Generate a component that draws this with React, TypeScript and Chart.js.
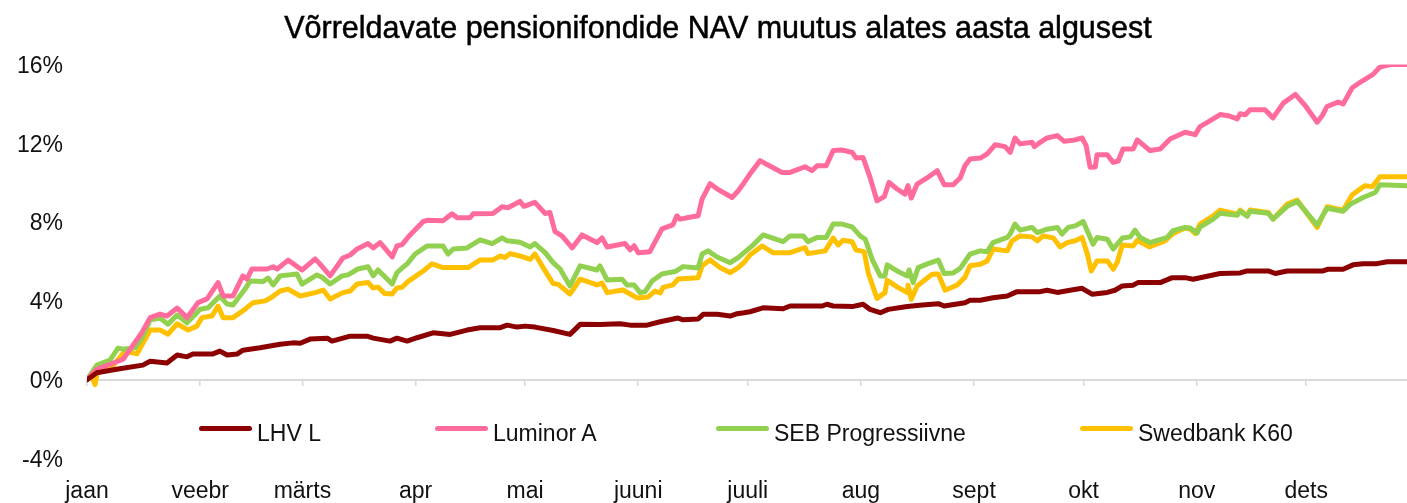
import React, { useEffect, useRef } from 'react';
import { Chart, registerables } from 'chart.js';

Chart.register(...registerables);

const TITLE = 'Võrreldavate pensionifondide NAV muutus alates aasta algusest';

const monthLabels = ['jaan', 'veebr', 'märts', 'apr', 'mai', 'juuni', 'juuli', 'aug', 'sept', 'okt', 'nov', 'dets'];
const monthStartDays = [0, 31, 59, 90, 120, 151, 181, 212, 243, 273, 304, 334];
const lastDay = 361.6;
const yTickValues = [-4, 0, 4, 8, 12, 16];

const seriesNames = ['LHV L', 'Luminor A', 'SEB Progressiivne', 'Swedbank K60'];
const seriesColors = ['#8B0000', '#FF6C9B', '#92D050', '#FFC000'];

// [day of year, % change since start of year]
const lhvL: number[][] = [
  [0, 0], [2.7, 0.35], [8.1, 0.53], [15.3, 0.74], [17.3, 0.94], [21.9, 0.85], [24.7, 1.25], [27.4, 1.16],
  [29.0, 1.30], [34.5, 1.31], [36.4, 1.45], [38.4, 1.25], [41.1, 1.30], [42.7, 1.50], [47.4, 1.62], [52.9, 1.80],
  [56.4, 1.87], [58.4, 1.85], [61.1, 2.06], [65.8, 2.11], [67.1, 1.96], [72.1, 2.21], [76.7, 2.21], [78.4, 2.11],
  [83.0, 1.96], [84.9, 2.11], [87.7, 1.96], [90.4, 2.13], [94.8, 2.38], [99.5, 2.30], [104.1, 2.52], [107.7, 2.64],
  [113.2, 2.64], [115.1, 2.77], [117.8, 2.67], [120.0, 2.72], [122.7, 2.67], [127.7, 2.50], [132.3, 2.30], [135.1, 2.81],
  [140.5, 2.80], [146.0, 2.84], [148.8, 2.77], [153.4, 2.77], [157.0, 2.94], [161.9, 3.13], [163.3, 3.04], [167.4, 3.08],
  [168.8, 3.32], [172.6, 3.32], [176.2, 3.23], [178.1, 3.35], [180.0, 3.40], [181.6, 3.45], [185.2, 3.65], [190.7, 3.60],
  [192.6, 3.74], [201.4, 3.74], [202.7, 3.83], [204.4, 3.74], [209.9, 3.72], [212.6, 3.83], [214.5, 3.57], [217.3, 3.40],
  [219.5, 3.57], [224.7, 3.72], [228.8, 3.79], [233.2, 3.86], [234.8, 3.74], [240.5, 3.91], [241.9, 4.03], [244.7, 4.03],
  [248.2, 4.16], [252.1, 4.25], [254.8, 4.47], [261.1, 4.47], [263.0, 4.54], [265.8, 4.43], [269.3, 4.54], [272.6, 4.64],
  [275.3, 4.34], [279.5, 4.43], [281.6, 4.54], [283.6, 4.76], [286.6, 4.80], [287.9, 4.93], [294.0, 4.93], [297.3, 5.18],
  [300.8, 5.18], [303.0, 5.10], [310.4, 5.39], [315.9, 5.42], [317.8, 5.52], [323.6, 5.52], [325.5, 5.39], [328.8, 5.52],
  [338.6, 5.52], [340.0, 5.61], [344.1, 5.61], [346.8, 5.83], [349.6, 5.89], [353.4, 5.89], [356.2, 5.99], [361.6, 5.99],
];

const luminorA: number[][] = [
  [0, 0], [2.7, 0.53], [9.9, 1.04], [15.0, 2.38], [17.3, 3.15], [20.0, 3.33], [21.9, 3.23], [24.7, 3.64],
  [27.4, 3.15], [30.4, 3.91], [32.9, 4.10], [35.9, 4.93], [37.3, 4.25], [40.0, 4.25], [42.7, 5.27], [43.8, 5.11],
  [45.2, 5.62], [49.3, 5.62], [51.0, 5.73], [52.1, 5.62], [55.1, 6.07], [58.9, 5.57], [62.5, 6.13], [63.8, 5.88],
  [66.6, 5.27], [70.1, 6.18], [72.1, 6.33], [74.0, 6.64], [77.0, 6.91], [78.4, 6.69], [80.3, 6.96], [83.6, 6.23],
  [84.9, 6.79], [86.3, 6.86], [88.5, 7.35], [92.1, 8.03], [93.4, 8.10], [97.5, 8.07], [100.0, 8.42], [101.4, 8.22],
  [104.9, 8.22], [105.8, 8.42], [111.2, 8.44], [113.7, 8.78], [115.3, 8.73], [118.6, 9.05], [119.7, 8.80], [122.7, 9.00],
  [125.5, 8.44], [126.8, 8.49], [128.2, 7.52], [130.1, 7.30], [132.9, 6.69], [135.6, 7.35], [139.7, 6.96], [141.1, 7.20],
  [142.5, 6.74], [147.4, 6.91], [148.8, 6.59], [149.9, 6.80], [151.0, 6.45], [154.2, 6.50], [156.2, 7.20], [157.5, 7.66],
  [160.5, 7.86], [161.6, 8.32], [162.5, 8.15], [164.4, 8.22], [167.4, 8.32], [168.5, 9.17], [170.7, 9.95], [172.6, 9.69],
  [176.7, 9.25], [178.4, 9.59], [180.0, 10.0], [181.6, 10.44], [184.4, 11.12], [186.3, 10.92], [190.4, 10.52], [192.6, 10.52],
  [196.7, 10.81], [198.6, 10.61], [200.0, 10.86], [202.5, 10.86], [204.4, 11.63], [206.8, 11.66], [209.6, 11.54], [210.7, 11.25],
  [212.6, 11.28], [214.5, 10.27], [216.4, 9.08], [218.4, 9.29], [219.7, 10.02], [221.9, 9.68], [224.1, 9.42], [224.9, 9.85],
  [225.8, 9.22], [227.4, 9.93], [230.1, 10.24], [232.9, 10.61], [234.8, 9.90], [237.3, 9.90], [239.2, 10.24], [240.5, 10.86],
  [241.9, 11.20], [244.7, 11.25], [246.6, 11.46], [248.8, 11.93], [251.5, 11.83], [252.9, 11.54], [254.2, 12.27], [255.6, 11.97],
  [258.9, 12.05], [259.5, 11.83], [261.1, 12.05], [263.0, 12.27], [265.8, 12.39], [267.7, 12.10], [270.1, 12.15], [272.6, 12.27],
  [273.7, 11.88], [274.8, 10.78], [276.2, 10.80], [276.7, 11.42], [279.5, 11.42], [281.1, 11.03], [282.5, 11.10], [283.8, 11.71],
  [286.6, 11.71], [287.7, 12.17], [291.2, 11.63], [294.0, 11.71], [296.7, 12.22], [300.8, 12.56], [303.6, 12.44], [304.9, 12.85],
  [307.7, 13.15], [310.4, 13.46], [312.6, 13.40], [315.1, 13.24], [315.9, 13.50], [317.3, 13.45], [318.6, 13.70], [322.7, 13.70],
  [324.9, 13.29], [327.7, 14.04], [331.0, 14.48], [333.7, 13.92], [337.0, 13.07], [338.4, 13.41], [339.7, 13.87], [342.7, 14.09],
  [344.1, 14.00], [346.6, 14.82], [349.3, 15.16], [352.3, 15.50], [354.2, 15.87], [357.0, 16.00], [361.6, 16.00],
];

const sebProgressiivne: number[][] = [
  [0, 0], [2.7, 0.74], [6.3, 0.99], [8.5, 1.60], [9.9, 1.55], [13.2, 1.62], [15.1, 2.13], [17.3, 3.03],
  [20.0, 3.13], [22.2, 2.82], [24.7, 3.28], [27.4, 2.89], [31.0, 3.58], [33.2, 3.65], [36.4, 4.25], [38.4, 3.84],
  [40.0, 3.79], [43.3, 4.60], [44.7, 5.01], [48.2, 4.98], [49.6, 5.16], [51.0, 4.81], [52.9, 5.27], [57.5, 5.37],
  [58.9, 4.85], [63.0, 5.32], [64.4, 5.20], [66.6, 4.86], [69.9, 5.27], [71.5, 5.32], [74.2, 5.62], [77.0, 5.73],
  [78.4, 5.27], [79.7, 5.57], [83.6, 4.86], [84.9, 5.43], [86.3, 5.67], [87.7, 5.88], [89.9, 6.38], [93.2, 6.79],
  [97.5, 6.79], [98.9, 6.38], [100.3, 6.64], [104.1, 6.69], [107.7, 7.10], [111.0, 6.91], [113.7, 7.20], [115.1, 7.05],
  [118.6, 6.98], [121.4, 6.74], [122.7, 6.91], [125.5, 6.45], [127.7, 5.94], [129.6, 5.62], [132.3, 4.76], [135.1, 5.78],
  [139.7, 5.57], [140.5, 5.78], [142.5, 5.06], [146.6, 5.10], [147.9, 4.81], [149.9, 4.81], [151.5, 4.42], [152.9, 4.47],
  [154.8, 5.01], [157.5, 5.37], [161.1, 5.49], [163.3, 5.74], [167.4, 5.67], [168.5, 6.38], [170.1, 6.54], [172.6, 6.23],
  [176.2, 5.94], [178.4, 6.20], [180.0, 6.45], [182.2, 6.79], [185.2, 7.35], [190.7, 7.01], [192.6, 7.30], [196.2, 7.30],
  [197.5, 7.01], [200.0, 7.22], [202.5, 7.22], [204.4, 7.90], [206.8, 7.90], [209.6, 7.76], [211.8, 7.30], [213.2, 7.13],
  [215.1, 6.11], [217.3, 5.27], [218.6, 5.27], [219.2, 5.83], [221.9, 5.52], [224.7, 5.27], [225.2, 5.57], [226.3, 4.93],
  [227.7, 5.69], [230.4, 5.89], [233.2, 6.07], [234.8, 5.39], [237.3, 5.42], [239.2, 5.65], [240.5, 6.00], [241.9, 6.37],
  [244.7, 6.54], [246.6, 6.50], [248.2, 6.96], [252.1, 7.22], [252.9, 7.40], [254.2, 7.90], [255.6, 7.59], [258.9, 7.73],
  [260.3, 7.47], [263.0, 7.64], [265.8, 7.73], [267.1, 7.39], [268.8, 7.73], [270.7, 7.81], [272.9, 8.03], [274.0, 7.56],
  [275.6, 6.88], [276.7, 7.22], [279.5, 7.13], [281.1, 6.63], [283.6, 7.19], [285.8, 7.25], [287.1, 7.59], [288.5, 7.22],
  [291.2, 6.96], [295.9, 7.22], [297.5, 7.56], [300.8, 7.73], [302.2, 7.70], [304.1, 7.45], [304.9, 7.75], [308.5, 8.15],
  [310.4, 8.45], [315.1, 8.35], [315.9, 8.55], [317.8, 8.30], [318.6, 8.55], [323.6, 8.45], [324.9, 8.15], [328.8, 8.80],
  [331.5, 9.05], [337.0, 7.85], [339.7, 8.70], [344.1, 8.55], [346.0, 8.90], [349.6, 9.25], [352.9, 9.50], [354.2, 9.90],
  [361.6, 9.85],
];

const swedbankK60: number[][] = [
  [0, 0], [1.1, 0.25], [2.2, -0.25], [3.0, 0.58], [6.3, 0.53], [10.4, 1.45], [13.7, 1.31], [17.3, 2.52],
  [20.0, 2.52], [22.2, 2.31], [24.7, 2.84], [27.7, 2.52], [30.1, 2.72], [31.5, 3.15], [34.2, 3.23], [35.9, 3.74],
  [37.3, 3.15], [40.0, 3.15], [43.3, 3.58], [45.5, 3.91], [48.8, 4.00], [50.7, 4.20], [52.9, 4.50], [55.1, 4.60],
  [58.4, 4.25], [62.5, 4.42], [64.7, 4.55], [66.6, 4.10], [70.1, 4.42], [72.1, 4.50], [74.0, 4.86], [77.0, 4.93],
  [78.4, 4.66], [79.7, 4.70], [81.6, 4.37], [83.6, 4.35], [84.9, 4.66], [86.3, 4.69], [87.9, 4.98], [92.1, 5.52],
  [94.5, 5.88], [97.5, 5.69], [104.4, 5.69], [107.7, 6.08], [111.2, 6.08], [113.2, 6.28], [114.5, 6.20], [115.9, 6.40],
  [118.6, 6.28], [121.4, 6.11], [122.7, 6.38], [126.0, 5.37], [127.7, 4.88], [129.0, 4.85], [132.3, 4.35], [135.1, 5.11],
  [139.7, 4.81], [141.1, 4.90], [142.5, 4.42], [146.8, 4.55], [148.8, 4.35], [150.7, 4.15], [153.7, 4.20], [155.6, 4.50],
  [157.0, 4.40], [157.8, 4.69], [160.5, 4.81], [161.9, 5.11], [167.4, 5.18], [168.5, 5.78], [170.7, 6.08], [173.4, 5.69],
  [176.2, 5.43], [178.4, 5.69], [180.0, 5.95], [181.6, 6.33], [184.9, 6.79], [187.9, 6.45], [192.6, 6.45], [196.7, 6.70],
  [197.5, 6.40], [202.2, 6.54], [204.4, 7.19], [205.8, 6.84], [207.1, 7.08], [209.6, 7.00], [210.7, 6.58], [212.9, 6.50],
  [214.0, 5.43], [216.4, 4.13], [218.6, 4.42], [219.2, 5.05], [221.9, 4.71], [224.7, 4.42], [224.9, 4.80], [225.8, 4.08],
  [227.4, 4.76], [231.5, 5.35], [233.2, 5.37], [235.1, 4.54], [238.4, 4.81], [240.5, 5.20], [241.9, 5.78], [244.7, 5.86],
  [246.6, 6.03], [248.2, 6.63], [252.1, 6.54], [253.4, 7.05], [255.6, 7.30], [258.9, 7.25], [260.3, 7.05], [261.9, 7.30],
  [264.7, 7.19], [266.6, 6.74], [268.5, 6.96], [270.7, 7.05], [272.6, 7.22], [274.0, 6.40], [275.1, 5.52], [276.7, 6.03],
  [279.5, 6.03], [281.1, 5.61], [282.2, 5.95], [283.6, 6.84], [286.6, 6.79], [287.7, 7.08], [291.0, 6.74], [295.3, 7.05],
  [297.5, 7.42], [300.8, 7.70], [302.2, 7.65], [303.6, 7.42], [304.9, 7.90], [308.5, 8.32], [310.4, 8.61], [315.1, 8.40],
  [315.9, 8.61], [317.8, 8.32], [318.6, 8.61], [323.6, 8.49], [324.9, 8.15], [328.8, 8.92], [331.5, 9.12], [337.0, 7.73],
  [339.7, 8.78], [344.1, 8.61], [346.6, 9.39], [350.1, 9.85], [352.1, 9.80], [354.2, 10.30], [361.6, 10.30],
];

const allSeries = [lhvL, luminorA, sebProgressiivne, swedbankK60];

const FONT = '"Liberation Sans", Arial, Helvetica, sans-serif';
const TEXT_COLOR = '#111111';
const AXIS_COLOR = '#d9d9d9';

// legend layout (page pixels)
const legendLineLeft = [199, 435, 716, 1080];
const legendLineWidth = 53;
const legendTop = 428;

export default function App() {
  const canvasRef = useRef<HTMLCanvasElement>(null);

  useEffect(() => {
    const canvas = canvasRef.current;
    if (!canvas) return;
    const monthTicks = (scale: any) => {
      scale.ticks = monthStartDays.map((v) => ({ value: v }));
    };
    const chart = new Chart(canvas, {
      type: 'line',
      data: {
        datasets: allSeries.map((s, i) => ({
          label: seriesNames[i],
          data: s.map(([x, y]) => ({ x, y })),
          borderColor: seriesColors[i],
          backgroundColor: seriesColors[i],
          borderWidth: 5,
          pointRadius: 0,
          pointHoverRadius: 0,
          tension: 0,
          borderJoinStyle: 'round',
          borderCapStyle: 'round',
          xAxisID: 'x',
          yAxisID: 'y',
        })),
      },
      options: {
        responsive: false,
        animation: false,
        layout: { padding: { left: 0, right: 0, top: 64.5, bottom: 0 } },
        plugins: {
          legend: { display: false },
          tooltip: { enabled: false },
          title: { display: false },
        },
        scales: {
          x: {
            type: 'linear',
            min: 0,
            max: lastDay,
            afterBuildTicks: monthTicks,
            afterFit: (scale: any) => {
              scale.height = 44.5;
            },
            grid: { display: false, drawTicks: false },
            border: { display: false },
            ticks: {
              autoSkip: false,
              maxRotation: 0,
              padding: 19,
              color: TEXT_COLOR,
              font: { family: FONT, size: 23 },
              callback: (value: any) => monthLabels[monthStartDays.indexOf(Number(value))] ?? '',
            },
          },
          x0: {
            type: 'linear',
            position: { y: 0 } as any,
            min: 0,
            max: lastDay,
            afterBuildTicks: monthTicks,
            grid: { drawOnChartArea: false, drawTicks: true, tickLength: 5, color: AXIS_COLOR, lineWidth: 1.5 },
            border: { display: true, color: AXIS_COLOR, width: 2 },
            ticks: { display: false },
          },
          y: {
            type: 'linear',
            min: -4,
            max: 16,
            afterBuildTicks: (scale: any) => {
              scale.ticks = yTickValues.map((v) => ({ value: v }));
            },
            afterFit: (scale: any) => {
              scale.width = 87;
            },
            grid: { display: false, drawTicks: false },
            border: { display: false },
            ticks: {
              padding: 24,
              labelOffset: 2,
              color: TEXT_COLOR,
              font: { family: FONT, size: 23 },
              callback: (value: any) => `${value}%`,
            },
          },
        },
      } as any,
    });
    return () => chart.destroy();
  }, []);

  return (
    <div style={{ position: 'absolute', left: 0, top: 0, width: 1407, height: 503, background: '#ffffff', overflow: 'hidden' }}>
      <canvas ref={canvasRef} width={1407} height={503} style={{ display: 'block', width: 1407, height: 503 }} />
      <div
        style={{
          position: 'absolute',
          left: 718,
          top: 11.5,
          transform: 'translateX(-50%)',
          fontFamily: FONT,
          fontSize: 30.5,
          lineHeight: '30.5px',
          color: '#000000',
          whiteSpace: 'nowrap',
          WebkitTextStroke: '0.5px #000000',
        }}
      >
        {TITLE}
      </div>
      {seriesNames.map((name, i) => (
        <React.Fragment key={name}>
          <div
            style={{
              position: 'absolute',
              left: legendLineLeft[i],
              top: legendTop - 2.5,
              width: legendLineWidth,
              height: 5,
              borderRadius: 2.5,
              background: seriesColors[i],
            }}
          />
          <span
            style={{
              position: 'absolute',
              left: legendLineLeft[i] + legendLineWidth + 5,
              top: 422,
              fontFamily: FONT,
              fontSize: 23,
              lineHeight: '23px',
              color: TEXT_COLOR,
              whiteSpace: 'nowrap',
            }}
          >
            {name}
          </span>
        </React.Fragment>
      ))}
    </div>
  );
}
